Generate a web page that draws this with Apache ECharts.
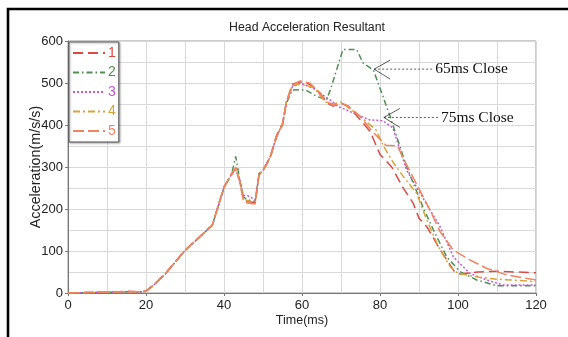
<!DOCTYPE html>
<html><head><meta charset="utf-8">
<script src="https://cdn.jsdelivr.net/npm/echarts@6/dist/echarts.min.js"></script>
<style>html,body{margin:0;padding:0;background:#fff}#c{width:568px;height:337px}</style>
</head><body><div id="c"></div>
<script>
// ---- data ----
const seriesNames = ['1','2','3','4','5'];
const xTicks = [0,20,40,60,80,100,120];
const yTicks = [0,100,200,300,400,500,600];

const t1 = [0,5,10,15,19,20,22,25,30,35,37,40,42,43,44,45,46,48,49,50,51,52,53.5,55,56,57.5,59.5,62,64.5,66.5,68,70,72,75,77.5,80,83,86,88.5,90,92,95.5,99,100.5,105,110,115,120];
const v1 = [0,1,2,4,3,5,20,47,102,145,162,253,282,298,270,222,218,215,285,293,309,329,376,404,455,497,503,497,475,452,445,452,444,412,384,330,300,249,214,178,158,102,52,45,50,52,50,48];

const t2 = [0,5,10,15,19,20,22,25,30,35,37,40,42,43,44,45,46,48,49,50,51,52,53.5,55,56,57.5,59.5,61,63.8,66.3,67.5,69,70.5,74,75.7,78.3,80.8,82.6,84.3,86.8,91,93.7,97.1,100.5,104.8,110,120];
const v2 = [0,1,2,3,3,4,19,46,101,144,161,250,285,325,272,228,222,218,282,292,308,328,372,400,452,483,484,483,468,460,490,535,580,580,547,531,467,420,372,301,205,150,86,51,31,17,17];

const t3 = [0,5,10,15,19,20,22,25,30,35,37,40,42,43,44,45,46,48,49,50,51,52,53.5,55,56,57.5,59.5,62.9,67.2,69.3,71.4,74,77.4,80.8,83.3,86.8,92.8,95.4,98.8,103,107.3,111.6,120];
const v3 = [0,1,2,3,3,4,19,46,101,144,161,252,284,294,268,232,232,222,283,292,308,328,374,402,456,490,500,487,460,444,436,425,412,410,393,293,198,158,86,47,31,19,19];

const t4 = [0,5,10,15,19,20,22,25,30,35,37,40,42,43,44,45,46,48,49,50,51,52,53.5,55,56,57.5,59.5,63,66,68,70,72,75,79,81,83.5,86,89.4,92,95,98,100,105,110,120];
const v4 = [0,1,2,3,3,4,19,46,101,144,161,252,284,300,268,224,220,216,282,292,308,328,374,402,456,494,497,490,455,450,455,440,420,388,348,309,277,237,174,110,62,47,38,33,27];

const t5 = [0,5,10,15,19,20,22,25,30,35,37,40,42,43,44,45,46,48,49,50,51,52,53.5,55,56,57.5,59.5,62,64.5,66.5,68,70,72,75,78,81.5,84.5,86,92.8,95.4,98.8,103,107.3,112.5,120];
const v5 = [0,1,2,3,3,4,19,46,101,144,161,252,286,296,266,218,214,212,280,292,306,326,372,400,452,494,505,500,478,455,447,452,444,420,385,352,350,320,198,146,102,79,59,43,31];

const annotations = [
  {text:'65ms Close', at:[78.5,533]},
  {text:'75ms Close', at:[81,418]}
];

// ---- styles ----
const colors = ['#dc4a44','#4f8f52','#c655d8','#dca23a','#f0845e'];
const dashes = [[10,5],[6,3,1.5,3],[2,2],[7,3,2,3],[11,4]];
const times = [t1,t2,t3,t4,t5];
const vals = [v1,v2,v3,v4,v5];

const chart = echarts.init(document.getElementById('c'), null, {renderer:'canvas'});
const font = 'Liberation Sans, Arial, sans-serif';
const series = seriesNames.map((n,i)=>({
  name:n, type:'line', showSymbol:false, symbol:'none', smooth:false,
  data: times[i].map((t,k)=>[t, vals[i][k]]),
  lineStyle:{color:colors[i], width:1.5, type:dashes[i]},
  itemStyle:{color:colors[i]},
  z: 3
}));

chart.setOption({
  animation:false,
  backgroundColor:'#fff',
  title:{text:'Head Acceleration Resultant', left:302, textAlign:'center', top:17,
    textStyle:{fontFamily:font, fontSize:12.3, fontWeight:'normal', color:'#222'}},
  legend:{
    orient:'vertical', left:69, top:42,
    data: seriesNames.map((n,i)=>({name:n, textStyle:{color:colors[i]}})),
    itemWidth:32, itemHeight:14, itemGap:5.5,
    padding:[4,3,4,3],
    borderColor:'#555', borderWidth:1, backgroundColor:'#fff',
    itemStyle:{opacity:0},
    textStyle:{fontFamily:font, fontSize:14, padding:[0,0,0,-2]},
    shadowColor:'rgba(0,0,0,0.3)', shadowBlur:2, shadowOffsetX:1, shadowOffsetY:1
  },
  grid:{left:68, right:32, top:41, bottom:44, show:true, borderColor:'#999', borderWidth:1},
  xAxis:{
    type:'value', min:xTicks[0], max:xTicks[xTicks.length-1], interval:20,
    name:'Time(ms)', nameLocation:'middle', nameGap:21, nameMoveOverlap:false,
    nameTextStyle:{fontFamily:font, fontSize:12.5, color:'#222'},
    axisLine:{show:true, lineStyle:{color:'#777'}},
    axisTick:{show:true, length:3, lineStyle:{color:'#777'}},
    axisLabel:{fontFamily:font, fontSize:13, color:'#222', margin:6},
    splitLine:{show:true, lineStyle:{color:'#d9d9d9'}},
    minorTick:{show:false, splitNumber:2},
    minorSplitLine:{show:true, lineStyle:{color:'#d9d9d9'}}
  },
  yAxis:{
    type:'value', min:yTicks[0], max:yTicks[yTicks.length-1], interval:100,
    name:'Acceleration(m/s/s)', nameLocation:'middle', nameGap:25, nameMoveOverlap:false,
    nameTextStyle:{fontFamily:font, fontSize:14.3, color:'#222'},
    axisLine:{show:true, lineStyle:{color:'#777'}},
    axisTick:{show:true, length:3, lineStyle:{color:'#777'}},
    axisLabel:{fontFamily:font, fontSize:13, color:'#222', margin:5},
    splitLine:{show:true, lineStyle:{color:'#d9d9d9'}},
    minorTick:{show:false, splitNumber:2},
    minorSplitLine:{show:true, lineStyle:{color:'#d9d9d9'}}
  },
  series: series
});

// annotations + outer frame
const g = [{type:'rect', shape:{x:8, y:9, width:620, height:400}, style:{fill:null, stroke:'#000', lineWidth:2.6}, silent:true}];
annotations.forEach((a,i)=>{
  const p = chart.convertToPixel({gridIndex:0}, a.at);
  const len = i===0 ? 58 : 54;
  g.push({type:'line', shape:{x1:p[0], y1:p[1], x2:p[0]+len, y2:p[1]}, style:{stroke:'#333', lineWidth:0.8, lineDash:[2,2]}, z:10});
  g.push({type:'polyline', shape:{points:[[p[0]+16,p[1]-9],[p[0],p[1]],[p[0]+16,p[1]+10]]}, style:{stroke:'#333', lineWidth:0.8, fill:null}, z:10});
  g.push({type:'text', x:p[0]+len+3, y:p[1], style:{text:a.text, font:'15.5px "Liberation Serif", "Times New Roman", serif', fill:'#111', verticalAlign:'middle'}, z:10});
});
chart.setOption({graphic:g});
</script></body></html>
